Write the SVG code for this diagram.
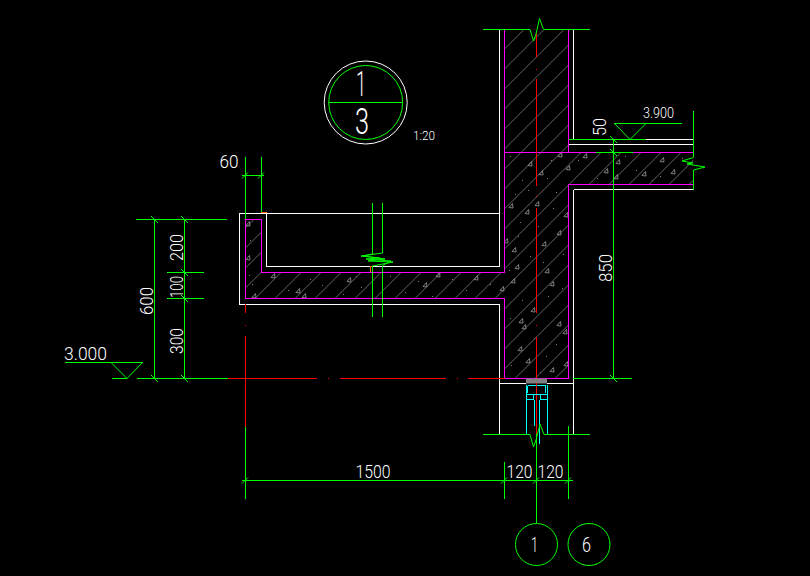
<svg xmlns="http://www.w3.org/2000/svg" width="810" height="576" viewBox="0 0 810 576">
<style>
.l{fill:none;stroke-width:1}
.c{shape-rendering:crispEdges}
.g{stroke:#00ff00}
.w{stroke:#ffffff}
.m{stroke:#ff00ff}
.r{stroke:#ff0000}
.y{stroke:#00ffff}
.o{stroke:#ff6a00}
.a{fill:none;stroke:#808080;stroke-width:1}
text{font-family:"Roboto","Liberation Sans",sans-serif;font-weight:300;fill:#ffffff;font-size:18px}
</style>
<defs>
<pattern id="hatch" patternUnits="userSpaceOnUse" width="20" height="20" patternTransform="translate(13.5 0)">
<path d="M-1 1L1 -1M0 20L20 0M19 21L21 19" stroke="#808080" stroke-width="0.8" fill="none"/>
</pattern>
<clipPath id="conc"><path d="M504.500 29.500H568.500V152.500H693.500V184.500H568.500V378.500H504.500V298.500H245.500V219.500H261.500V272.500H504.500Z"/></clipPath>
<path id="t" d="M-2 1.500L1.500 -2.500L2 2Z"/>
</defs>
<rect width="810" height="576" fill="#000000"/>

<g id="concrete">
<path d="M504.500 29.500H568.500V152.500H693.500V184.500H568.500V378.500H504.500V298.500H245.500V219.500H261.500V272.500H504.500Z" fill="url(#hatch)"/>
<g class="a" clip-path="url(#conc)">
<use href="#t" x="560" y="155"/><use href="#t" x="585" y="156"/><use href="#t" x="530" y="164"/><use href="#t" x="541" y="173"/><use href="#t" x="568" y="168"/><use href="#t" x="606" y="171"/><use href="#t" x="618" y="162"/><use href="#t" x="616" y="177"/><use href="#t" x="644" y="174"/><use href="#t" x="662" y="160"/><use href="#t" x="673" y="172"/><use href="#t" x="511" y="206"/><use href="#t" x="537" y="204"/><use href="#t" x="527" y="212"/><use href="#t" x="566" y="215"/><use href="#t" x="559" y="233"/><use href="#t" x="506" y="241"/><use href="#t" x="544" y="244"/><use href="#t" x="514" y="250"/><use href="#t" x="517" y="267"/><use href="#t" x="547" y="271"/><use href="#t" x="513" y="281"/><use href="#t" x="552" y="284"/><use href="#t" x="502" y="289"/><use href="#t" x="438" y="275"/><use href="#t" x="476" y="278"/><use href="#t" x="425" y="285"/><use href="#t" x="349" y="280"/><use href="#t" x="533" y="310"/><use href="#t" x="521" y="321"/><use href="#t" x="524" y="327"/><use href="#t" x="559" y="324"/><use href="#t" x="565" y="332"/><use href="#t" x="520" y="349"/><use href="#t" x="528" y="361"/><use href="#t" x="566" y="364"/><use href="#t" x="552" y="370"/><use href="#t" x="248" y="224"/><use href="#t" x="248" y="258"/><use href="#t" x="273" y="276"/><use href="#t" x="298" y="291"/><use href="#t" x="254" y="296"/><use href="#t" x="304" y="296"/>
</g>
<path fill="#808080" d="M510 156h1v1h-1zM522 180h1v1h-1zM551 160h1v1h-1zM547 178h1v1h-1zM515 194h1v1h-1zM528 190h1v1h-1zM556 192h1v1h-1zM578 160h1v1h-1zM597 178h1v1h-1zM625 156h1v1h-1zM636 170h1v1h-1zM652 180h1v1h-1zM682 158h1v1h-1zM660 176h1v1h-1zM520 222h1v1h-1zM538 226h1v1h-1zM553 208h1v1h-1zM563 254h1v1h-1zM518 236h1v1h-1zM530 256h1v1h-1zM543 262h1v1h-1zM509 270h1v1h-1zM562 288h1v1h-1zM522 300h1v1h-1zM548 296h1v1h-1zM510 318h1v1h-1zM534 338h1v1h-1zM556 344h1v1h-1zM511 365h1v1h-1zM546 356h1v1h-1zM540 372h1v1h-1zM250 240h1v1h-1zM249 275h1v1h-1zM252 284h1v1h-1zM288 290h1v1h-1zM310 279h1v1h-1zM322 285h1v1h-1zM343 294h1v1h-1zM356 276h1v1h-1zM361 287h1v1h-1zM390 276h1v1h-1zM405 292h1v1h-1zM418 281h1v1h-1zM432 296h1v1h-1zM452 279h1v1h-1zM466 290h1v1h-1zM490 284h1v1h-1z"/>
</g>

<g id="walls">
<path class="l w c" d="M499.500 29.500V266.500H266.500V213.500H239.500V304.500H499.500V434.500M573.500 29.500V139M573.500 189.500V434.500M573.500 189.500H693.500M569 144.500H693.500M646 139.500H693.500M499.500 383.500H526M547 383.500H573.500M266.500 213.500H499.500"/>
<path class="l m c" d="M504.500 29.500V272.500H370M504.500 298.500V378.500M568.500 29.500V152.500M504.500 152.500H693.500M693.500 184.500H568.500V378.500M504.500 378.500H568.500M245.500 298.500H504.500M245.500 298.500V219.500H261.500V272.500H370"/>
<path class="l r c" d="M536.500 32V57M536.500 68.500V70M536.500 79V186M536.500 195.500V197M536.500 208V313M536.500 324.500V326M536.500 337V442M245.500 304V313M245.500 324.500V326M245.500 336V427M228 378.500H317M327.500 378.500H329M340 378.500H446M456.500 378.500H458M468 378.500H505"/>
<path class="l o c" d="M261 212.500H266.500V213M370.500 272V266.500H373"/>
</g>

<g id="window">
<rect x="526" y="378.500" width="21" height="5" fill="#808080"/>
<path class="l y c" d="M526.500 385V434M547.500 385V434M527.500 385.500H545.500V393M527.500 385.500V393M526.500 394.500H547.500M526.500 399.500H533.500V394.500M540.500 394.500V399.500H547.500M534.500 399.500V426M539.500 399.500V444"/>
<path class="l r c" d="M536.500 383V394"/>
</g>

<g id="connectors">
<path class="l g c" d="M483 29.500H530M544 29.500H590M483 434.500H530M544 434.500H590M569 139.500H646M596 152.500H633M613.500 139V378.500M693.500 111V157M693.500 170V190M245.500 157V219M261.500 157V212M242 175.500H264M154.500 219V378.500M184.500 219V378.500M136 219.500H227M167 272.500H204M167 298.500H204M137 378.500H228M112 378.500H127M573 378.500H632M372.500 203V254M382.500 203V253M372.500 266V317M382.500 266V317M245.500 427V499M242 480.500H573M504.500 462V499M536.500 434V523M568.500 426V499M614 123.500H682M65 362.500H143M328.500 102.500H403"/>
<path class="l g" d="M530 29.500L533.500 41L536 34L539.500 18.500L543.500 29.500M530 434.500L533.500 447L536 440L540 424L544 434.500M693.500 157.500L682 161L693 163L687 164L705 167L693.500 170M372.500 254L363 256L385 259L368 261L393 262L372.500 266M382.500 253L361 256L380 258L366 259L391 261L382.500 265.500M614.500 123.500L630 139.500L646 123.500M111 362.500L127 378.500L142.500 362.500M242 178.500L248 172.500M258 178.500L264 172.500M151 216L158 223M181 216L188 223M181 269L188 276M181 295L188 302M151 375L158 382M181 375L188 382M610 136L617 143M610 149L617 156M610 375L617 382M242 483.500L248 477.500M501 483.500L507 477.500M533 483.500L539 477.500M565 483.500L571 477.500"/>
</g>

<g id="section-mark">
<circle class="l w" cx="365.700" cy="102.500" r="41.500"/>
<circle class="l g" cx="365.700" cy="102.500" r="37"/>
<text x="356" y="96" textLength="10" lengthAdjust="spacingAndGlyphs" style="font-size:35px">1</text>
<text x="355" y="134" textLength="14" lengthAdjust="spacingAndGlyphs" style="font-size:36px">3</text>
<text x="413" y="140" textLength="22" lengthAdjust="spacingAndGlyphs" style="font-size:12px">1:20</text>
</g>

<g id="axis-1"><circle class="l g" cx="536.500" cy="544.500" r="21"/><text x="531" y="552" textLength="7" lengthAdjust="spacingAndGlyphs" style="font-size:21px">1</text></g>
<g id="axis-6"><circle class="l g" cx="589" cy="544.500" r="21"/><text x="582" y="552" textLength="9" lengthAdjust="spacingAndGlyphs" style="font-size:21px">6</text></g>

<g id="labels">
<text x="219.500" y="168" textLength="19" lengthAdjust="spacingAndGlyphs">60</text>
<text x="64" y="360" textLength="43" lengthAdjust="spacingAndGlyphs">3.000</text>
<text x="643" y="118" textLength="31" lengthAdjust="spacingAndGlyphs" style="font-size:14px">3.900</text>
<text x="355.500" y="478" textLength="35" lengthAdjust="spacingAndGlyphs">1500</text>
<text x="506.500" y="478" textLength="26" lengthAdjust="spacingAndGlyphs">120</text>
<text x="537.500" y="478" textLength="26" lengthAdjust="spacingAndGlyphs">120</text>
<text transform="translate(153 315) rotate(-90)" textLength="28" lengthAdjust="spacingAndGlyphs">600</text>
<text transform="translate(183 261) rotate(-90)" textLength="27" lengthAdjust="spacingAndGlyphs">200</text>
<text transform="translate(183 298) rotate(-90)" textLength="22" lengthAdjust="spacingAndGlyphs">100</text>
<text transform="translate(183 354) rotate(-90)" textLength="26" lengthAdjust="spacingAndGlyphs">300</text>
<text transform="translate(606 136) rotate(-90)" textLength="18" lengthAdjust="spacingAndGlyphs">50</text>
<text transform="translate(612 282) rotate(-90)" textLength="28" lengthAdjust="spacingAndGlyphs">850</text>
</g>
</svg>
